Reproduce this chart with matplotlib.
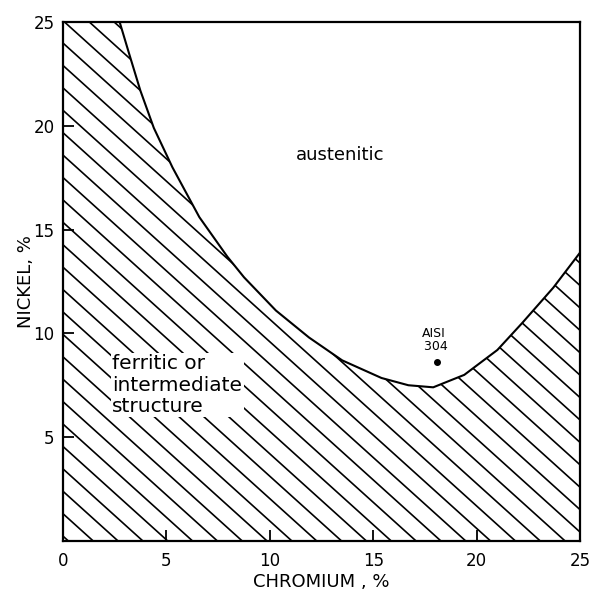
import numpy as np
import matplotlib.pyplot as plt
from matplotlib.patches import Polygon

plt.rcParams['font.family'] = ['DejaVu Sans']

# boundary between austenitic and ferritic/intermediate structure
cr_curve = [2.75, 3.2, 3.75, 4.4, 5.3, 6.6, 7.95, 8.76, 10.3, 11.9, 13.5,
            15.4, 16.7, 17.9, 19.4, 21.0, 22.2, 23.7, 25.0]
ni_curve = [25.0, 23.5, 21.7, 19.9, 18.0, 15.6, 13.7, 12.7, 11.1, 9.8, 8.7,
            7.85, 7.5, 7.4, 8.0, 9.2, 10.5, 12.2, 13.9]

aisi_cr, aisi_ni = 18.1, 8.6
ticks = [0, 5, 10, 15, 20, 25]
xlim = (0, 25)
ylim = (0, 25)

fig = plt.figure(figsize=(5.92, 5.97), dpi=100)
ax = fig.add_axes([0.106, 0.094, 0.874, 0.869])
ax.set_xlim(*xlim)
ax.set_ylim(*ylim)

# hatched region below the curve
verts = [(xlim[0], ylim[0]), (xlim[1], ylim[0])]
verts += list(zip(cr_curve[::-1], ni_curve[::-1]))
verts += [(xlim[0], ylim[1])]
region = Polygon(verts, closed=True, facecolor='none', edgecolor='none')
ax.add_patch(region)

slope = 0.9
step = 1.08
for c in np.arange(-30, 60, step):
    xs = np.array([-5, 35])
    ln, = ax.plot(xs, -slope * xs + c, color='black', lw=1.2)
    ln.set_clip_path(region)

ax.plot(cr_curve, ni_curve, color='black', lw=1.5, zorder=3)
ax.plot(aisi_cr, aisi_ni, 'o', color='black', ms=4, zorder=4)
ax.text(aisi_cr - 0.15, aisi_ni + 0.45, 'AISI\n 304', ha='center', va='bottom',
        fontsize=9, linespacing=1.0, zorder=4)

ax.text(13.4, 18.6, 'austenitic', ha='center', va='center', fontsize=13)
ax.text(2.4, 7.5, 'ferritic or\nintermediate\nstructure', ha='left', va='center',
        fontsize=14.5, linespacing=1.15, zorder=5,
        bbox=dict(facecolor='white', edgecolor='none', pad=1))

ax.set_xticks(ticks)
ax.set_yticks(ticks[1:])
ax.tick_params(direction='in', length=8, width=1.3, labelsize=12, pad=8)
ax.tick_params(axis='y', pad=6)
for s in ax.spines.values():
    s.set_linewidth(1.6)

ax.set_xlabel('CHROMIUM , %', fontsize=13, labelpad=2)
ax.set_ylabel('NICKEL, %', fontsize=13, labelpad=-1)

fig.savefig('out.png', dpi=100)
